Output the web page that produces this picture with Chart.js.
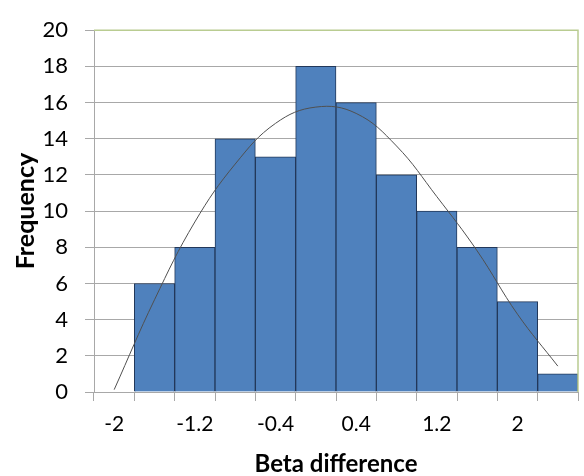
<!DOCTYPE html>
<html>
<head>
<meta charset="utf-8">
<script src="https://cdn.jsdelivr.net/npm/chart.js@4.4.1/dist/chart.umd.min.js"></script>
<style>
  html, body { margin: 0; padding: 0; background: #fff; }
  #wrap { width: 584px; height: 476px; position: relative; }
</style>
</head>
<body>
<div id="wrap"><canvas id="histo"></canvas></div>
<script>
// Histogram of beta differences with fitted normal curve
const categories = ['-2', '-1.6', '-1.2', '-0.8', '-0.4', '0', '0.4', '0.8', '1.2', '1.6', '2', '2.4'];
const frequency = [0, 6, 8, 14, 13, 18, 16, 12, 10, 8, 5, 1];
const normalCurve = [0.13, 5.1, 9.4, 12.6, 14.85, 15.75, 15.4, 13.6, 10.8, 7.8, 4.3, 1.43];
const yMin = 0;
const yMax = 20;
const yStep = 2;

const gridGray = '#a8a8a8';

// olive frame on top and right of plot area (Excel style)
const plotFrame = {
    id: 'plotFrame',
    afterDraw(chart) {
        const { ctx, chartArea: a } = chart;
        ctx.save();
        ctx.strokeStyle = '#b9cc91';
        ctx.lineWidth = 1.5;
        ctx.beginPath();
        ctx.moveTo(a.left, a.top);
        ctx.lineTo(a.right, a.top);
        ctx.lineTo(a.right, a.bottom);
        ctx.stroke();
        ctx.restore();
    }
};

new Chart(document.getElementById('histo'), {
    data: {
        labels: categories,
        datasets: [
            {
                type: 'line',
                data: normalCurve,
                borderColor: '#505050',
                borderWidth: 1,
                pointRadius: 0,
                tension: 0.4,
                fill: false,
                order: 0
            },
            {
                type: 'bar',
                data: frequency,
                backgroundColor: '#4f81bd',
                borderColor: '#22385a',
                borderWidth: 1,
                categoryPercentage: 1,
                barPercentage: 1,
                order: 1
            }
        ]
    },
    options: {
        responsive: true,
        maintainAspectRatio: false,
        animation: false,
        layout: { padding: { top: 19, right: 6, left: 0, bottom: 0 } },
        plugins: {
            legend: { display: false },
            tooltip: { enabled: false }
        },
        scales: {
            x: {
                type: 'category',
                offset: true,
                afterFit: s => { s.height = 84; },
                grid: { drawOnChartArea: false, drawTicks: true, tickLength: 9, color: gridGray, offset: true },
                border: { color: gridGray },
                ticks: {
                    autoSkip: false,
                    maxRotation: 0,
                    padding: 11,
                    color: '#000',
                    font: { family: 'Lato', size: 21 },
                    callback: (v, i) => (i % 2 === 0 ? categories[i] : '')
                },
                title: {
                    display: true,
                    text: 'Beta difference',
                    color: '#000',
                    font: { family: 'Lato', size: 24, weight: 'bold' },
                    padding: { top: 0, bottom: -2.5 }
                }
            },
            y: {
                min: yMin,
                max: yMax,
                afterFit: s => { s.width = 94; },
                grid: { color: gridGray, tickLength: 9 },
                border: { color: gridGray },
                ticks: {
                    stepSize: yStep,
                    padding: 17,
                    color: '#000',
                    font: { family: 'Lato', size: 22 }
                },
                title: {
                    display: true,
                    text: 'Frequency',
                    color: '#000',
                    font: { family: 'Lato', size: 25, weight: 'bold' },
                    padding: { top: 11, bottom: 0 }
                }
            }
        }
    },
    plugins: [plotFrame]
});
</script>
</body>
</html>
